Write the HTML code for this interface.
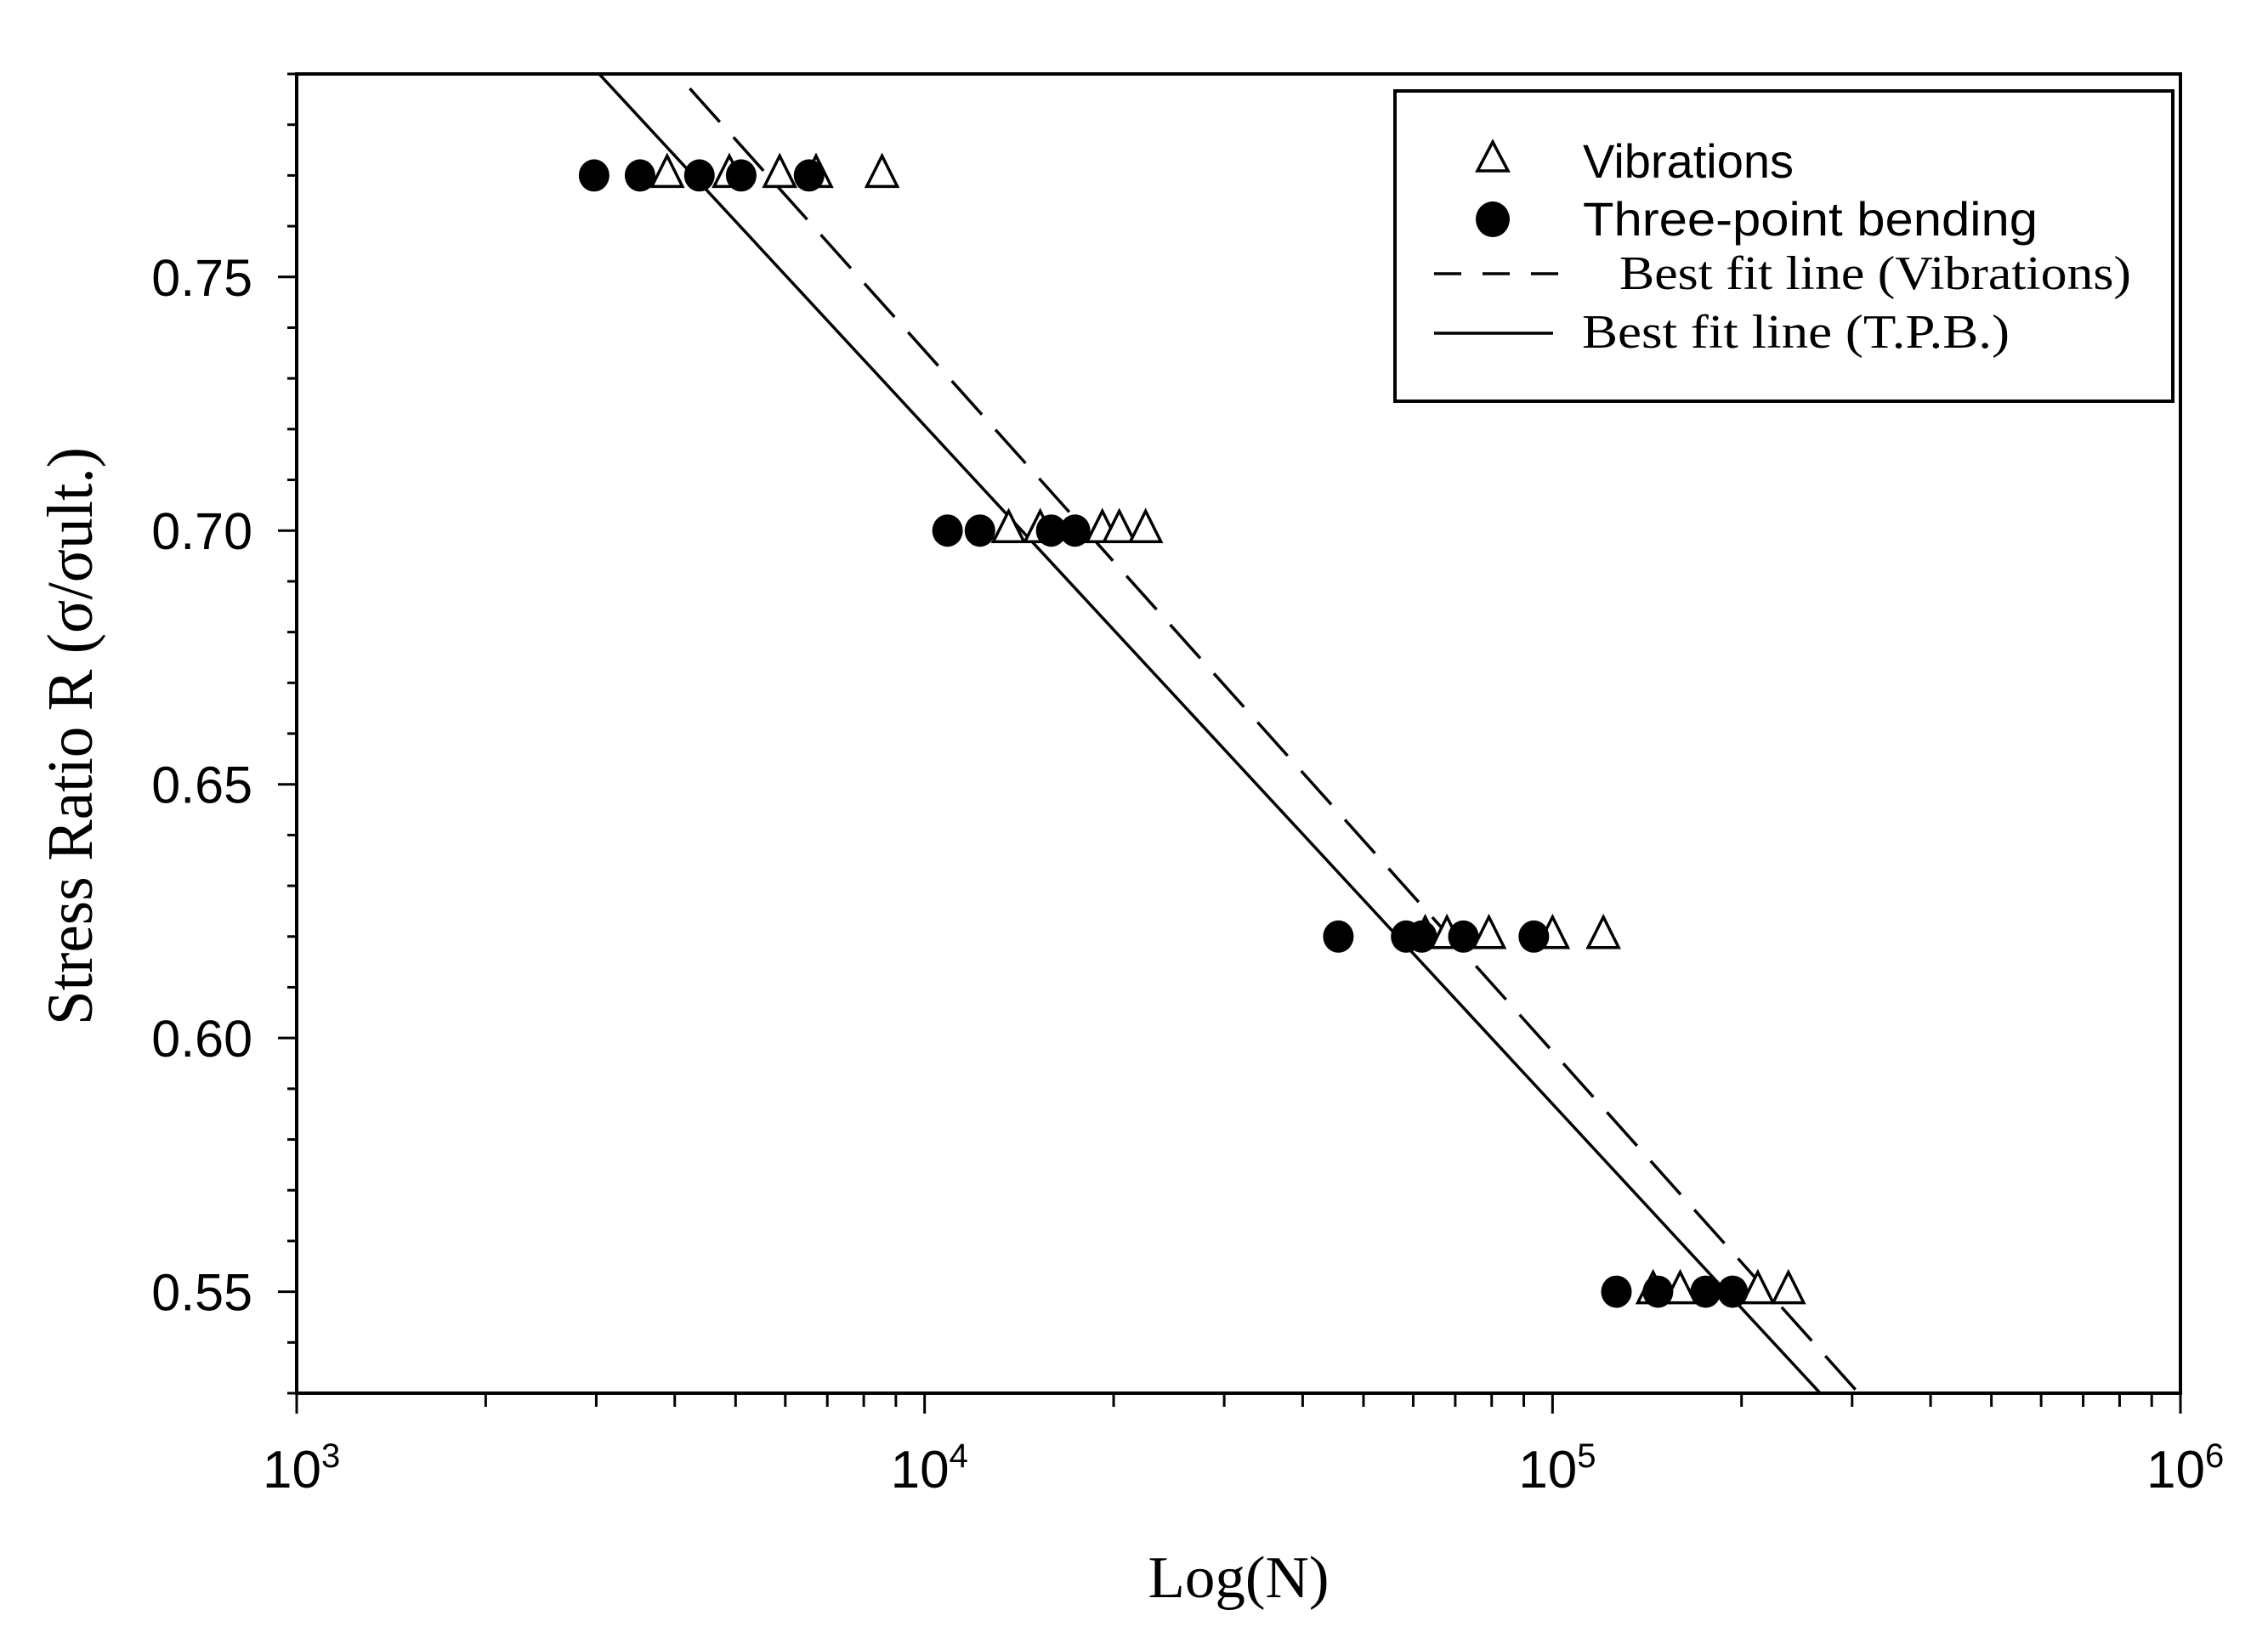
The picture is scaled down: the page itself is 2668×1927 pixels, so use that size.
<!DOCTYPE html>
<html><head><meta charset="utf-8"><style>
html,body{margin:0;padding:0;background:#fff;width:2668px;height:1927px;overflow:hidden;}
svg{display:block;}
.ar{font-family:"Liberation Sans",Arial,sans-serif;}
.tm{font-family:"Liberation Serif","Times New Roman",serif;}
</style></head><body>
<svg id="chart" width="2668" height="1927" viewBox="0 0 2668 1927" xmlns="http://www.w3.org/2000/svg">
<rect x="0" y="0" width="2668" height="1927" fill="#fff"/>
<g id="plot"></g>
<text class="tm" x="0" y="0" font-size="76" textLength="680" lengthAdjust="spacingAndGlyphs" transform="translate(108,866) rotate(-90)" text-anchor="middle">Stress Ratio R (σ/σult.)</text>
<text class="tm" x="1457" y="1879" font-size="70" textLength="213" lengthAdjust="spacingAndGlyphs" text-anchor="middle">Log(N)</text>
<g>
<rect x="1641" y="107" width="915" height="365" fill="#fff" stroke="#000" stroke-width="4"/>
<polygon points="1756,167 1738,201 1774,201" fill="#fff" stroke="#000" stroke-width="3.5"/>
<text class="ar" x="1862" y="209" font-size="56">Vibrations</text>
<ellipse cx="1756" cy="258" rx="20" ry="21" fill="#000"/>
<text class="ar" x="1862" y="277" font-size="56" textLength="535" lengthAdjust="spacingAndGlyphs">Three-point bending</text>
<line x1="1687" y1="322" x2="1843" y2="322" stroke="#000" stroke-width="3.5" stroke-dasharray="32,25"/>
<text class="tm" x="1905" y="340" font-size="56" textLength="602" lengthAdjust="spacingAndGlyphs">Best fit line (Vibrations)</text>
<line x1="1687" y1="392" x2="1827" y2="392" stroke="#000" stroke-width="3.5"/>
<text class="tm" x="1861" y="409" font-size="56" textLength="503" lengthAdjust="spacingAndGlyphs">Best fit line (T.P.B.)</text>
</g>
</svg>
<script>
// Data
const vibN = [3890,4887,5878,6716,8555, 13610,15280,19190,20420,22490, 62700,67900,79200,100000,120500, 144600,159700,212300,237500];
const vibR = [0.77,0.77,0.77,0.77,0.77, 0.70,0.70,0.70,0.70,0.70, 0.62,0.62,0.62,0.62,0.62, 0.55,0.55,0.55,0.55];
const tpbN = [2976,3522,4379,5104,6546, 10877,12250,15910,17360, 45600,58470,61900,72120,93370, 126400,147200,175300,193600];
const tpbR = [0.77,0.77,0.77,0.77,0.77, 0.70,0.70,0.70,0.70, 0.62,0.62,0.62,0.62,0.62, 0.55,0.55,0.55,0.55];
// best fit lines: R = a - b*log10(N)
const fitVib = [1.2880, 0.13813];
const fitTpb = [1.2555, 0.1337];
const xDecades = [3,4,5,6];
const yTicks = [0.55,0.60,0.65,0.70,0.75];
const yDomain = [0.53,0.79];
const xDomain = [3,6];

const NS='http://www.w3.org/2000/svg';
const L=349,R=2565,T=87,B=1639;
function sx(lg){return L+(lg-xDomain[0])/(xDomain[1]-xDomain[0])*(R-L);}
function sy(v){return B-(v-yDomain[0])/(yDomain[1]-yDomain[0])*(B-T);}
const g=document.getElementById('plot');
function mk(tag,attrs){const e=document.createElementNS(NS,tag);for(const k in attrs)e.setAttribute(k,attrs[k]);g.appendChild(e);return e;}

const defs=mk('defs',{});
const cp=document.createElementNS(NS,'clipPath');cp.setAttribute('id','clip');
const cr=document.createElementNS(NS,'rect');cr.setAttribute('x',L);cr.setAttribute('y',T);cr.setAttribute('width',R-L);cr.setAttribute('height',B-T);
cp.appendChild(cr);defs.appendChild(cp);

function fitLine(f,dash,name){
  const x0=xDomain[0],x1=xDomain[1];
  const l=mk('line',{x1:sx(x0),y1:sy(f[0]-f[1]*x0),x2:sx(x1),y2:sy(f[0]-f[1]*x1),stroke:'#000','stroke-width':3.5,'clip-path':'url(#clip)'});
  if(dash)l.setAttribute('stroke-dasharray',dash);
  
  
}
fitLine(fitTpb,null,'fit-line-tpb');
fitLine(fitVib,'53,24','fit-line-vibrations');

for(let i=0;i<vibN.length;i++){
  const cx=sx(Math.log10(vibN[i])),cy=sy(vibR[i]);
  const p=mk('polygon',{points:`${cx},${cy-23} ${cx-18},${cy+13} ${cx+18},${cy+13}`,fill:'#fff',stroke:'#000','stroke-width':3.5});
  
  
}
for(let i=0;i<tpbN.length;i++){
  const c=mk('ellipse',{cx:sx(Math.log10(tpbN[i])),cy:sy(tpbR[i]),rx:18,ry:19,fill:'#000'});
  
  
}

const fr=mk('rect',{x:L,y:T,width:R-L,height:B-T,fill:'none',stroke:'#000','stroke-width':4});



for(let v=Math.ceil(yDomain[0]*100);v<=Math.floor(yDomain[1]*100);v++){
  const y=sy(v/100);const major=(v%5===0);
  const t=mk('line',{x1:major?L-22:L-11,x2:L,y1:y,y2:y,stroke:'#000','stroke-width':3});
  
  
}
yTicks.forEach(v=>{
  const t=mk('text',{x:297,y:sy(v)+22,'font-size':61,'text-anchor':'end',class:'ar'});
  t.textContent=v.toFixed(2);
  
  
});
xDecades.forEach((d,i)=>{
  const x=sx(d);
  const t=mk('line',{x1:x,x2:x,y1:B,y2:B+24,stroke:'#000','stroke-width':3});
  
  
  if(i<xDecades.length-1){
    for(let m=2;m<=9;m++){
      const xm=sx(d+Math.log10(m));
      const tm=mk('line',{x1:xm,x2:xm,y1:B,y2:B+16,stroke:'#000','stroke-width':3});
      
      
    }
  }
  const lb=mk('text',{x:x-40,y:1750,'font-size':62,class:'ar'});
  
  
  const t1=document.createElementNS(NS,'tspan');t1.textContent='10';lb.appendChild(t1);
  const t2=document.createElementNS(NS,'tspan');t2.setAttribute('font-size','40');t2.setAttribute('dy','-24');t2.textContent=String(d);lb.appendChild(t2);
});
</script>
</body></html>
